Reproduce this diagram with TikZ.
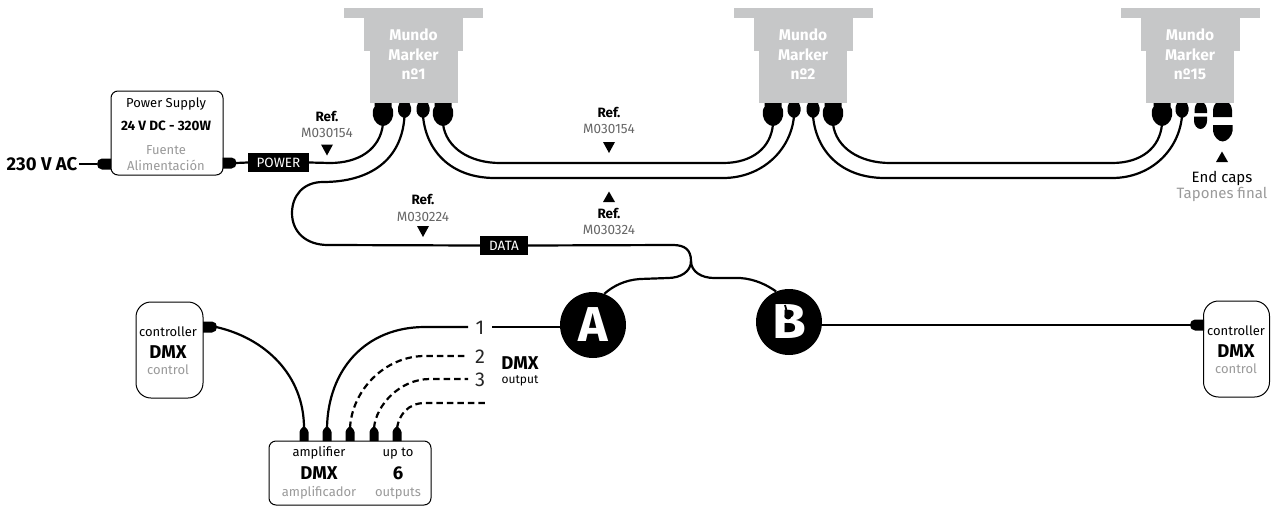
\documentclass[tikz,border=0pt]{standalone}
\usepackage{fontspec}
\setmainfont{Fira Sans}
\newcommand{\fsz}[1]{\fontsize{#1}{#1}\selectfont}
\definecolor{mk}{HTML}{C6C7C8}
\definecolor{gr}{HTML}{9A9A9A}
\definecolor{gd}{HTML}{666666}
\tikzset{
  cable/.style={line width=2.2pt,black},
  dcable/.style={cable,dash pattern=on 6.5pt off 4pt},
  box/.style={draw=black,line width=1pt,rounded corners=#1,fill=white,inner sep=0pt},
  lab/.style={anchor=base,inner sep=0pt,font=\fsz{13}},
  glab/.style={lab,text=gr},
  blab/.style={lab,font=\fsz{13.5}\bfseries},
  dmx/.style={lab,font=\fsz{18.5}\bfseries},
  tag/.style={fill=black,text=white,inner sep=0pt,font=\fsz{13.5}},
  letter/.style={circle,fill=black,text=white,minimum size=66pt,inner sep=0pt,font=\fontsize{49}{49}\selectfont\bfseries},
  pics/biggland/.style={code={\fill (-8.5,0)--(8.5,0)--(8.5,4) .. controls (10.5,6) and (10.5,10) .. (10,13) .. controls (9,19) and (4,23) .. (0,23) .. controls (-4,23) and (-9,19) .. (-10,13) .. controls (-10.5,10) and (-10.5,6) .. (-8.5,4)--cycle;}},
  pics/smallgland/.style={code={\fill (-5,0)--(5,0) .. controls (6.5,3) and (7,6) .. (6.5,8) .. controls (6,12) and (3,14.5) .. (0,15) .. controls (-3,14.5) and (-6,12) .. (-6.5,8) .. controls (-7,6) and (-6.5,3) .. (-5,0)--cycle;}},
  pics/plugleft/.style={code={\fill (0,-5.5) -- (-9,-5.5) .. controls (-12,-5.5) and (-14,-3) .. (-14,0) .. controls (-14,3) and (-12,5.5) .. (-9,5.5) -- (0,5.5)--cycle;}},
  pics/plugup/.style={code={\fill (-4.5,0) -- (-4.5,-9) .. controls (-4.5,-11.5) and (-2.5,-12.5) .. (-1,-14) -- (1,-14) .. controls (2.5,-12.5) and (4.5,-11.5) .. (4.5,-9) -- (4.5,0)--cycle;}},
  pics/tridown/.style={code={\fill (-6,0)--(6,0)--(0,11)--cycle;}},
  pics/triup/.style={code={\fill (-6,0)--(6,0)--(0,-10.5)--cycle;}},
  pics/marker/.style={code={
    \fill[mk] (-69.5,8) rectangle (69.5,18);
    \fill[mk] (-49.5,18) rectangle (49.5,51);
    \fill[mk] (-44,51) rectangle (44,103);
    \node[lab,text=white,font=\fsz{15.5}\bfseries] (-l1) at (0,40.5) {Mundo};
    \node[lab,text=white,font=\fsz{15.5}\bfseries] (-l2) at (0,60.5) {Marker};
    \node[lab,text=white,font=\fsz{15.5}\bfseries] (-l3) at (0,79.5) {#1};
  }},
}
\begin{document}
\begin{tikzpicture}[x=1pt,y=-1pt]
\useasboundingbox (0,0) rectangle (1271,506);
% markers
\pic (m1) at (413.5,0) {marker={nº1}};
\pic (m2) at (803,0) {marker={nº2}};
\pic (m3) at (1190,0) {marker={nº15}};
% cable end points
\coordinate (a1) at (383,124); \coordinate (b1) at (404.5,116); \coordinate (c1) at (423,116); \coordinate (d1) at (443,124);
\coordinate (a2) at (773,124); \coordinate (b2) at (794,116); \coordinate (c2) at (813,116); \coordinate (d2) at (833,124);
\coordinate (a3) at (1162,124); \coordinate (b3) at (1182,116);
\foreach \x in {383,443,773,833,1162} \pic at (\x,103) {biggland};
\foreach \x in {404.5,423,794,813,1182} \pic at (\x,103) {smallgland};
% end caps
\fill (1194.5,113) -- (1194.5,110) .. controls (1195,106) and (1196,104) .. (1197,103) -- (1204,103) .. controls (1205,104) and (1206.5,106) .. (1207,110) -- (1207,113) -- cycle;
\fill (1194,116.5) -- (1207,116.5) -- (1207,121) .. controls (1207,125) and (1204,129) .. (1200.5,129) .. controls (1197,129) and (1194,125) .. (1194,121) -- cycle;
\fill (1213,117) -- (1213,110) .. controls (1213.5,106) and (1215,104) .. (1216,103) -- (1229,103) .. controls (1230,104) and (1231.5,106) .. (1232,110) -- (1232,117) -- cycle;
\fill (1213,125) -- (1232.5,125) -- (1232.5,131) .. controls (1232,136) and (1227,141.5) .. (1222.7,141.5) .. controls (1218,141.5) and (1213.5,136) .. (1213,131) -- cycle;
% boxes
\node[box=7pt,minimum width=112pt,minimum height=84pt] (ps) at (167,133) {};
\node[box=15pt,minimum width=67pt,minimum height=96pt] (cl) at (169.5,350) {};
\node[box=15pt,minimum width=66pt,minimum height=96pt] (cr) at (1236.5,349) {};
\node[box=7pt,minimum width=162pt,minimum height=64pt] (am) at (350,473) {};
% power supply
\node[lab] (ps1) at (166,107) {Power Supply};
\node[blab] (ps2) at (166,130) {24 V DC - 320W};
\node[glab] (ps3) at (166,154) {Fuente};
\node[glab] (ps4) at (166,170) {Alimentación};
\node[lab,font=\fsz{18.5}\bfseries] (ac) at (42,170) {230 V AC};
\pic at (111,164) {plugleft};
\coordinate (psin) at (97,164);
\draw[cable] (ac.base east |- psin) ++(2,0) -- (psin);
\pic[xscale=-1] at (222.5,163) {plugleft};
\node[tag,minimum width=61pt,minimum height=19pt] (power) at (278.5,162.5) {POWER};
\draw[cable] (236,163) -- (power.west);
\draw[cable] (power.east) -- (330,163) .. controls (358,163) and (380,150) .. (a1);
% marker links
\draw[cable] (d1) .. controls (446,148) and (470,163) .. (500,163) -- (723,163) .. controls (752,163) and (771,148) .. (a2);
\draw[cable] (c1) .. controls (426,150) and (450,178) .. (495,178) -- (723,178) .. controls (762,178) and (791,150) .. (b2);
\draw[cable] (d2) .. controls (836,148) and (860,163) .. (890,163) -- (1112,163) .. controls (1141,163) and (1160,148) .. (a3);
\draw[cable] (c2) .. controls (816,150) and (840,178) .. (885,178) -- (1112,178) .. controls (1151,178) and (1179,150) .. (b3);
% data cable
\node[tag,minimum width=48pt,minimum height=19pt] (data) at (504,245.5) {DATA};
\node[letter] (A) at (593,325) {\scalebox{1.02}[1]{A}};
\node[letter] (B) at (789,322) {\scalebox{1.12}[1]{B}};
\coordinate (j) at (691,261);
\draw[cable] (b1) .. controls (402,160) and (370,182) .. (323,182) .. controls (303,182) and (292,196) .. (292,213) .. controls (292,232) and (306,245) .. (328,245) -- (data.west);
\draw[cable] (data.east) -- (673,245) .. controls (685,245) and (691,250) .. (j);
\draw[cable] (j) .. controls (691,272) and (680,278) .. (668,278) -- (640,279) .. controls (625,280) and (613,286) .. (A.70);
\draw[cable] (j) .. controls (691,272) and (702,278) .. (714,278) -- (740,278) .. controls (755,279) and (767,285) .. (B.113);
\draw[black,line width=1.8pt] (785,305) -- (788,316);
\fill (788,316) circle (3.5);
% references
\node[blab] (r1) at (327,121) {Ref.};
\node[lab,text=gd,font=\fsz{13.5}] (r1b) at (327,137) {M030154};
\pic at (327,144.5) {tridown};
\node[blab] (r2) at (609,117) {Ref.};
\node[lab,text=gd,font=\fsz{13.5}] (r2b) at (609,133) {M030154};
\pic at (609,142) {tridown};
\node[blab] (r3) at (423,204) {Ref.};
\node[lab,text=gd,font=\fsz{13.5}] (r3b) at (423,221) {M030224};
\pic at (423,226) {tridown};
\pic at (609,202) {triup};
\node[blab] (r4) at (609,218) {Ref.};
\node[lab,text=gd,font=\fsz{13.5}] (r4b) at (609,234) {M030324};
\pic at (1222,162) {triup};
\node[lab,font=\fsz{15}] (ec) at (1222,182) {End caps};
\node[glab,font=\fsz{15}] (ec2) at (1222,198) {Tapones final};
% controllers
\node[lab] (cl1) at (168,336) {controller};
\node[dmx] (cl2) at (168,358) {DMX};
\node[glab] (cl3) at (168,374) {control};
\node[lab] (cr1) at (1236,335) {controller};
\node[dmx] (cr2) at (1236,357) {DMX};
\node[glab] (cr3) at (1236,373) {control};
\pic[xscale=-1] at (203,327) {plugleft};
\pic at (1204,325) {plugleft};
\draw[cable] (B.east |- 0,325) -- (1191,325);
% amplifier
\node[lab] (am1) at (319,456) {amplifier};
\node[lab] (am2) at (398,456) {up to};
\node[dmx] (am3) at (319,479) {DMX};
\node[dmx] (am4) at (398,479) {6};
\node[glab] (am5) at (319,496) {amplificador};
\node[glab] (am6) at (398,496) {outputs};
\foreach \x in {304,327,350,374,397} \pic at (\x,441) {plugup};
\coordinate (o1) at (304,428); \coordinate (o2) at (327,428); \coordinate (o3) at (350,428); \coordinate (o4) at (374,428); \coordinate (o5) at (397,428);
\draw[cable] (216,327) .. controls (265,338) and (304,375) .. (o1);
\node[lab,font=\fsz{20},text=black!85] (n1) at (480,334) {1};
\node[lab,font=\fsz{20},text=black!85] (n2) at (480,363) {2};
\node[lab,font=\fsz{20},text=black!85] (n3) at (480,386) {3};
\draw[cable] (o2) .. controls (328,370) and (365,327) .. (425,327) -- (468,327);
\draw[cable] (492,327) -- (A.west |- 0,327);
\draw[dcable] (o3) .. controls (352,390) and (385,356) .. (425,356) -- (468,356);
\draw[dcable] (o4) .. controls (376,405) and (400,379) .. (430,379) -- (468,379);
\draw[dcable] (o5) .. controls (399,415) and (408,403) .. (425,403) -- (488,403);
\node[dmx] (dm) at (520,369) {DMX};
\node[lab,font=\fsz{12}] (dm2) at (520,383) {output};
\end{tikzpicture}
\end{document}
